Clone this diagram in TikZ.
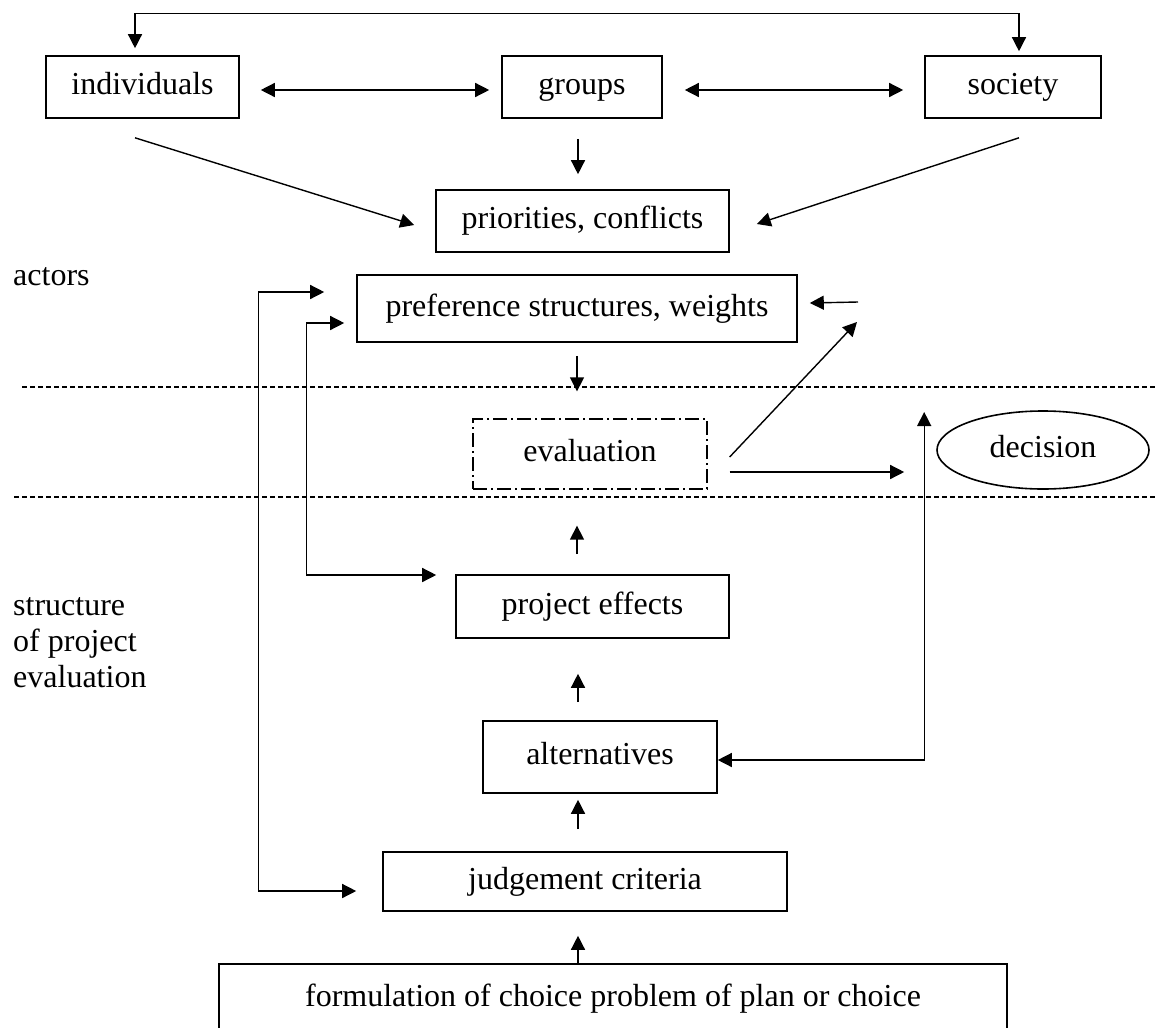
\documentclass[tikz,border=0pt]{standalone}
\usepackage{fontspec}
\setmainfont{Liberation Serif}
\usepackage{tikz}
\usetikzlibrary{arrows.meta,calc,shapes.geometric}

\tikzset{
  box/.style={draw,line width=1.6pt,inner sep=0pt,align=center,text height=22pt,text depth=7pt},
  arr/.style={line width=1.4pt,-{Triangle[length=14pt,width=14pt]}},
  dbl/.style={line width=1.4pt,{Triangle[length=14pt,width=14pt]}-{Triangle[length=14pt,width=14pt]}},
  sep/.style={line width=1.8pt,dash pattern=on 5pt off 3pt},
  lbl/.style={inner sep=0pt,anchor=west,align=left}
}

\begin{document}
\begin{tikzpicture}[x=1pt,y=-1pt,font=\fontsize{32}{36}\selectfont]
\clip (0,0) rectangle (1157,1028);
\fill[white] (0,0) rectangle (1157,1028);

\node[box,minimum width=193pt,minimum height=62pt] (ind) at (142.5,87) {individuals};
\node[box,minimum width=160pt,minimum height=62pt] (grp) at (582,87) {groups};
\node[box,minimum width=176pt,minimum height=62pt] (soc) at (1013,87) {society};
\node[box,minimum width=293pt,minimum height=62pt] (prio) at (582.5,221) {priorities, conflicts};
\node[box,minimum width=440pt,minimum height=67pt] (pref) at (577,308.5) {preference structures, weights};
\node[box,line width=1.3pt,dash pattern=on 14pt off 4pt on 2pt off 4pt,
      minimum width=234pt,minimum height=70pt] (eval) at (590,454) {evaluation};
\node[draw,ellipse,line width=1.6pt,inner sep=0pt,text height=22pt,text depth=7pt,
      minimum width=212pt,minimum height=78pt] (dec) at (1043,450) {decision};
\node[box,minimum width=273pt,minimum height=63pt] (eff) at (592.5,606.5) {project effects};
\node[box,minimum width=234pt,minimum height=72pt] (alt) at (600,757) {alternatives};
\node[box,minimum width=404pt,minimum height=59pt] (judg) at (585,881.5) {judgement criteria};
\node[box,minimum width=788pt,minimum height=70pt] (form) at (613,999) {formulation of choice problem of plan or choice};

% side labels
\node[lbl] (actors) at (13,277) {actors};
\node[lbl] (struct) at (13,643) {structure\\of project\\evaluation};

% separators
\draw[sep] (22,387) -- (1157,387);
\draw[sep] (14,497) -- (1157,497);

\coordinate (back) at (858,302);
\coordinate (backin) at (857,322);

% actors
\draw[dbl] ([shift={(-7.5pt,7pt)}]ind.north) -- ++(0,-35) -| ([shift={(6pt,4pt)}]soc.north);
\draw[dbl,shorten <=21pt,shorten >=12pt] ([yshift=-3pt]ind.east) -- ([yshift=-3pt]grp.west);
\draw[dbl,shorten <=22pt,shorten >=21pt] ([yshift=-3pt]grp.east) -- ([yshift=-3pt]soc.west);
\draw[arr,shorten <=20pt,shorten >=15pt] ([xshift=-4pt]grp.south) -- ([xshift=-4pt]grp.south |- prio.north);
\draw[arr] ([shift={(-7.5pt,-19pt)}]ind.south) -- ([shift={(-21pt,-4pt)}]prio.west);
\draw[arr] ([shift={(6pt,-19pt)}]soc.south) -- ([shift={(27pt,-3pt)}]prio.east);
\draw[arr,shorten <=13pt,shorten >=27pt] (pref.south) -- (pref.south |- eval.north);
\draw[arr] (back) -- ([shift={(12pt,5.5pt)}]pref.east);

% evaluation
\draw[arr] ([shift={(22pt,-3pt)}]eval.east) -- (backin);
\draw[arr] ([shift={(22pt,-18pt)}]eval.east) -- ([shift={(-32pt,-22pt)}]dec.west);
\draw[dbl] ([yshift=-3pt]alt.east) -| ([shift={(-12pt,38pt)}]dec.west);

% structure
\draw[arr,shorten <=20pt,shorten >=36pt] ([xshift=-15.5pt]eff.north) -- ([xshift=-15.5pt]eff.north |- eval.south);
\draw[arr,shorten <=18pt,shorten >=35pt] ([xshift=-22pt]alt.north) -- ([xshift=-22pt]alt.north |- eff.south);
\draw[arr,shorten <=22pt,shorten >=6pt] ([xshift=-7pt]judg.north) -- ([xshift=-7pt]judg.north |- alt.south);
\draw[arr,shorten >=24pt] ([xshift=-35pt]form.north) -- ([xshift=-35pt]form.north |- judg.south);

% feedback
\draw[dbl] ([shift={(-32pt,16.5pt)}]pref.west) -- ++(-66,0) |- ([shift={(-26pt,-9.5pt)}]judg.west);
\draw[dbl] ([shift={(-12pt,-14.5pt)}]pref.west) -- ++(-38,0) |- ([shift={(-19pt,31.5pt)}]eff.west);
\end{tikzpicture}
\end{document}
